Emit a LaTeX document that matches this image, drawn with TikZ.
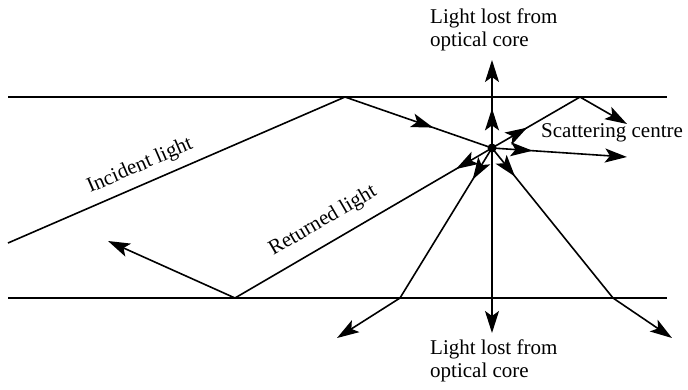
\documentclass[tikz,border=0pt]{standalone}
\usepackage{fontspec}
\setmainfont{Liberation Serif}
\usetikzlibrary{arrows.meta,decorations.markings}
\tikzset{
  ray/.style={line width=1.6pt},
  wall/.style={line width=1.8pt},
  tipend/.style={-{Stealth[length=22pt,width=14pt,inset=5pt]}},
  midarrow/.style={postaction={decorate,decoration={markings,
      mark=at position #1 with {\arrow{Stealth[length=22pt,width=14pt,inset=5pt]}}}}},
  lbl/.style={font=\fontsize{21}{23}\selectfont, inner sep=0pt},
}
\begin{document}
\begin{tikzpicture}[x=1pt,y=-1pt]
\useasboundingbox (0,0) rectangle (688,389);
% fibre walls
\coordinate (tl) at (8,97);  \coordinate (tr) at (667,97);
\coordinate (bl) at (8,298); \coordinate (br) at (667,298);
\draw[wall] (tl) -- (tr);
\draw[wall] (bl) -- (br);
% points
\coordinate (in) at (8,243);
\coordinate (r1) at (345,97);
\coordinate (S) at (492,148);
\coordinate (r2) at (580,97);
\coordinate (e2) at (627,124);
\coordinate (e3) at (627,157);
\coordinate (up) at (492,60);
\coordinate (dn) at (492,333);
\coordinate (r3) at (235,298);
\coordinate (e4) at (108,241);
\coordinate (r4) at (400,298);
\coordinate (e5) at (337,338);
\coordinate (r5) at (613,298);
\coordinate (e6) at (672,338);
% rays
\draw[ray] (in) -- (r1);
\draw[ray,midarrow=0.6] (r1) -- (S);
\draw[ray,midarrow=0.4] (S) -- (r2);
\draw[ray,tipend] (r2) -- (e2);
\draw[ray,tipend,midarrow=0.3] (S) -- (e3);
\draw[ray,tipend,midarrow=0.45] (S) -- (up);
\draw[ray,tipend] (S) -- (dn);
\draw[ray,midarrow=0.14] (S) -- (r3);
\draw[ray,tipend] (r3) -- (e4);
\draw[ray,midarrow=0.21] (S) -- (r4);
\draw[ray,tipend] (r4) -- (e5);
\draw[ray,midarrow=0.19] (S) -- (r5);
\draw[ray,tipend] (r5) -- (e6);
\fill (S) circle (4.5pt);
% labels
\node[lbl,anchor=north west,align=left] (toplbl) at (430,9) {Light lost from\\optical core};
\node[lbl,anchor=north west,align=left] (botlbl) at (430,340) {Light lost from\\optical core};
\node[lbl,anchor=west] (scat) at (541,133) {Scattering centre};
\node[lbl,rotate=23.4] (inc) at (140,166) {Incident light};
\node[lbl,rotate=30.3] (ret) at (323,221) {Returned light};
\end{tikzpicture}
\end{document}
